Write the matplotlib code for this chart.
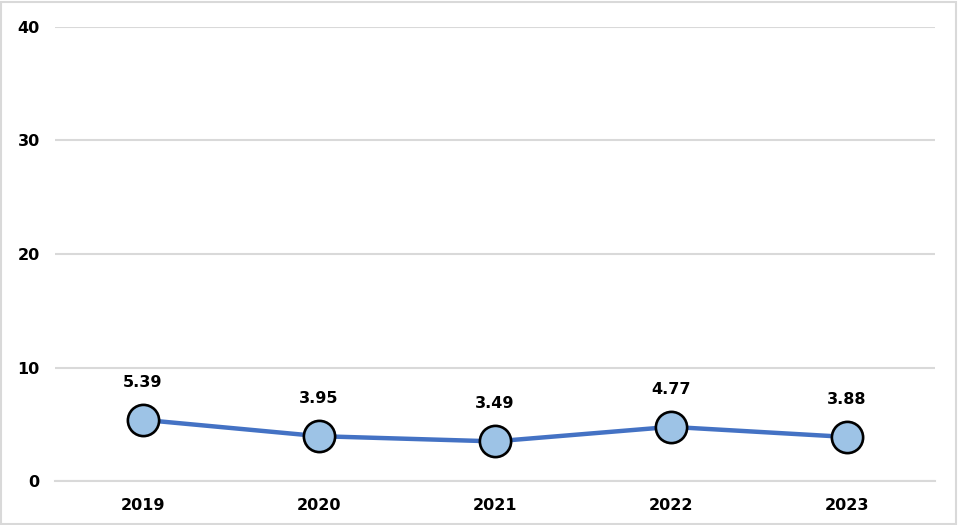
import matplotlib.pyplot as plt
from matplotlib.patches import Rectangle

years = ['2019', '2020', '2021', '2022', '2023']
values = [5.39, 3.95, 3.49, 4.77, 3.88]
yticks = [0, 10, 20, 30, 40]

fig = plt.figure(figsize=(9.58, 5.25), dpi=100)
ax = fig.add_axes([0.0574, 0.0838, 0.9186, 0.8648])

x = list(range(len(years)))
ax.plot(x, values, color='#4472C4', linewidth=3.2, marker='o', markersize=22.5,
        markerfacecolor='#9DC3E6', markeredgecolor='black', markeredgewidth=1.9,
        zorder=3)
for xi, v in zip(x, values):
    ax.annotate(f'{v:.2f}', (xi, v), xytext=(0, 27), textcoords='offset points',
                ha='center', va='center', fontsize=11.5, fontweight='bold')

ax.set_xlim(-0.5, len(years) - 0.5)
ax.set_ylim(0, 40)
ax.set_yticks(yticks)
ax.set_xticks(x)
ax.set_xticklabels(years)
ax.grid(axis='y', color='#D9D9D9', linewidth=1.5)
ax.set_axisbelow(True)
for s in ['top', 'right', 'left']:
    ax.spines[s].set_visible(False)
ax.spines['bottom'].set_color('#D9D9D9')
ax.spines['bottom'].set_linewidth(1.5)
ax.tick_params(length=0, labelsize=11.5, pad=12)
ax.tick_params(axis='y', pad=11)
for lab in ax.get_xticklabels() + ax.get_yticklabels():
    lab.set_fontweight('bold')

fig.patches.append(Rectangle((0.001, 0.002), 0.997, 0.995, transform=fig.transFigure,
                             fill=False, edgecolor='#D9D9D9', linewidth=1.5))

fig.savefig('out.png', dpi=100)
